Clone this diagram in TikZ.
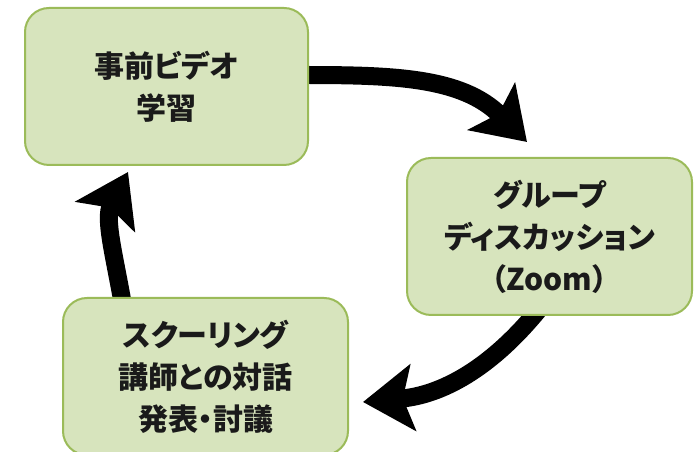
\documentclass[tikz,border=0pt]{standalone}
\usepackage{fontspec}
\setmainfont{Noto Sans CJK JP}[RawFeature=+palt]
\usetikzlibrary{arrows.meta,backgrounds}
\definecolor{boxfill}{HTML}{D7E4BD}
\definecolor{boxline}{HTML}{9BBB59}
\definecolor{txt}{HTML}{1A1A1A}
\tikzset{
  stage/.style={draw=boxline, line width=2pt, fill=boxfill, rounded corners=24pt,
    minimum width=283pt, minimum height=157pt, inner sep=0pt, align=center,
    text=txt, font=\fontsize{30pt}{42pt}\selectfont\bfseries},
  flow/.style={line width=18pt, draw=black,
    -{Stealth[length=50pt, width=66pt, inset=10pt]}}
}
\begin{document}
\begin{tikzpicture}[x=1pt,y=1pt]
\useasboundingbox (0,0) rectangle (697,452);
\node[stage] (b1) at (166.5,365.5) {事前ビデオ\\学習};
\node[stage, minimum width=285pt] (b2) at (549.5,215.5) {グループ\\ディスカッション\\（Zoom）};
\node[stage, minimum width=285pt] (b3) at (205.5,75.5) {スクーリング\\講師との対話\\発表・討議};
\coordinate (t1) at (527,310);
\coordinate (t3) at (363,50);
\coordinate (t2) at (128,280);
\begin{scope}[on background layer]
\draw[flow] ([xshift=-8pt,yshift=11.5pt]b1.east) to[out=0,in=135] (t1);
\draw[flow] ([xshift=-9.5pt,yshift=8pt]b2.south) to[out=231,in=5] (t3);
\draw[flow] ([xshift=-82.5pt,yshift=-8pt]b3.north) to[out=100,in=243] (t2);
\end{scope}
\end{tikzpicture}
\end{document}
